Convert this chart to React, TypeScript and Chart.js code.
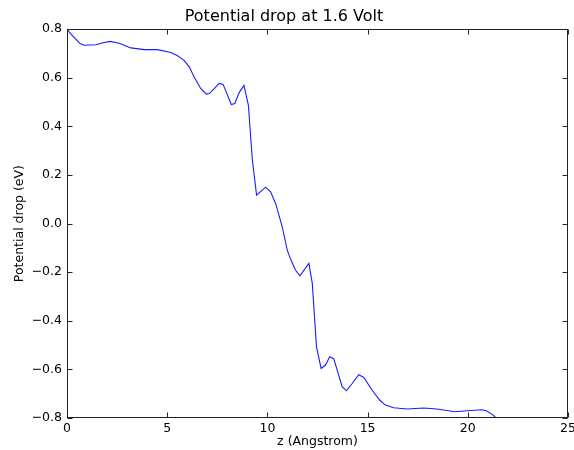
import { useEffect, useRef } from "react";
import { Chart, registerables } from "chart.js";

Chart.register(...registerables);

const zValues = [
  0, 0.2, 0.45, 0.65, 0.86, 1.44, 1.8, 2.16, 2.6, 3.19, 3.85, 4.52, 5.18, 5.5, 5.84,
  6.1, 6.34, 6.67, 6.96, 7.1, 7.35, 7.59, 7.79, 8.2, 8.37, 8.6, 8.83, 9.05, 9.25,
  9.46, 9.91, 10.16, 10.41, 10.74, 10.99, 11.16, 11.4, 11.62, 12.07, 12.24, 12.45,
  12.68, 12.9, 13.11, 13.31, 13.73, 13.94, 14.23, 14.56, 14.81, 15.22, 15.6, 15.89,
  16.3, 16.97, 17.8, 18.46, 19.37, 19.96, 20.7, 20.92, 21.2, 21.45, 21.8,
];

const dropValues = [
  0.8, 0.78, 0.758, 0.741, 0.734, 0.736, 0.744, 0.75, 0.742, 0.723, 0.716, 0.716,
  0.704, 0.692, 0.672, 0.645, 0.604, 0.556, 0.533, 0.535, 0.555, 0.577, 0.573, 0.49,
  0.494, 0.54, 0.569, 0.488, 0.261, 0.117, 0.15, 0.131, 0.083, -0.013, -0.109,
  -0.147, -0.191, -0.215, -0.164, -0.246, -0.507, -0.596, -0.582, -0.548, -0.556,
  -0.671, -0.688, -0.658, -0.622, -0.633, -0.685, -0.726, -0.747, -0.758, -0.763,
  -0.759, -0.763, -0.774, -0.77, -0.766, -0.77, -0.784, -0.802, -0.83,
];

const xTicks = [0, 5, 10, 15, 20, 25];
const yTicks = [0.8, 0.6, 0.4, 0.2, 0.0, -0.2, -0.4, -0.6, -0.8];

const titleText = "Potential drop at 1.6 Volt";
const xLabel = "z (Angstrom)";
const yLabel = "Potential drop (eV)";

const frameTicks = {
  id: "frameTicks",
  afterDraw(chart: any) {
    const { ctx, chartArea: a, scales } = chart;
    const x = scales.x;
    const y = scales.y;
    const L = Math.round(a.left) + 0.5;
    const R = Math.round(a.right) - 0.5;
    const T = Math.round(a.top) + 0.5;
    const B = Math.round(a.bottom) - 0.5;
    ctx.save();
    ctx.strokeStyle = "#222";
    ctx.lineWidth = 1;
    ctx.beginPath();
    for (const v of xTicks) {
      const px = Math.round(x.getPixelForValue(v)) + 0.5;
      ctx.moveTo(px, B);
      ctx.lineTo(px, B - 5);
      ctx.moveTo(px, T);
      ctx.lineTo(px, T + 5);
    }
    for (const v of yTicks) {
      const py = Math.round(y.getPixelForValue(v)) + 0.5;
      ctx.moveTo(L, py);
      ctx.lineTo(L + 5, py);
      ctx.moveTo(R, py);
      ctx.lineTo(R - 5, py);
    }
    ctx.stroke();
    ctx.strokeRect(L, T, R - L, B - T);
    ctx.restore();
  },
};

export default function App() {
  const ref = useRef<HTMLCanvasElement | null>(null);
  useEffect(() => {
    if (!ref.current) return;
    Chart.defaults.font.family = "'DejaVu Sans'";
    Chart.defaults.color = "#000";
    const points = zValues.map((z, i) => ({ x: z, y: dropValues[i] }));
    const chart = new Chart(ref.current, {
      type: "line",
      data: {
        datasets: [
          {
            data: points,
            borderColor: "#1a1aff",
            borderWidth: 1.1,
            pointRadius: 0,
            tension: 0,
            fill: false,
          },
        ],
      },
      options: {
        animation: false,
        responsive: false,
        layout: { padding: { left: 0, right: 6, top: 0, bottom: 0 } },
        plugins: {
          legend: { display: false },
          tooltip: { enabled: false },
          title: {
            display: true,
            text: titleText,
            font: { size: 16, weight: "normal" },
            color: "#000",
            padding: { top: 7, bottom: 3 },
          },
        },
        scales: {
          x: {
            type: "linear",
            min: 0,
            max: 25,
            grid: { display: false, drawTicks: false },
            border: { display: false },
            ticks: {
              stepSize: 5,
              padding: 3,
              font: { size: 12.5 },
              color: "#000",
              maxRotation: 0,
            },
            title: {
              display: true,
              text: xLabel,
              font: { size: 12.5 },
              color: "#000",
              padding: { top: 0, bottom: 1 },
            },
            afterFit(scale: any) {
              scale.height = 32;
              scale.paddingLeft = 0;
              scale.paddingRight = 0;
            },
          },
          y: {
            type: "linear",
            min: -0.8,
            max: 0.8,
            grid: { display: false, drawTicks: false },
            border: { display: false },
            ticks: {
              stepSize: 0.2,
              padding: 5,
              font: { size: 12.5 },
              color: "#000",
              callback: (v: any) => {
                const n = Math.abs(Number(v)) < 1e-9 ? 0 : Number(v);
                return n.toFixed(1).replace("-", "\u2212");
              },
            },
            title: {
              display: true,
              text: yLabel,
              font: { size: 12.5 },
              color: "#000",
              padding: { top: 12, bottom: 0 },
            },
            afterFit(scale: any) {
              scale.width = 67;
              scale.paddingTop = 0;
              scale.paddingBottom = 0;
            },
          },
        },
      },
      plugins: [frameTicks],
    });
    return () => chart.destroy();
  }, []);
  return (
    <div style={{ position: "absolute", left: 0, top: 0, width: 574, height: 450, background: "#fff" }}>
      <canvas ref={ref} width={574} height={450} style={{ display: "block" }} />
    </div>
  );
}
